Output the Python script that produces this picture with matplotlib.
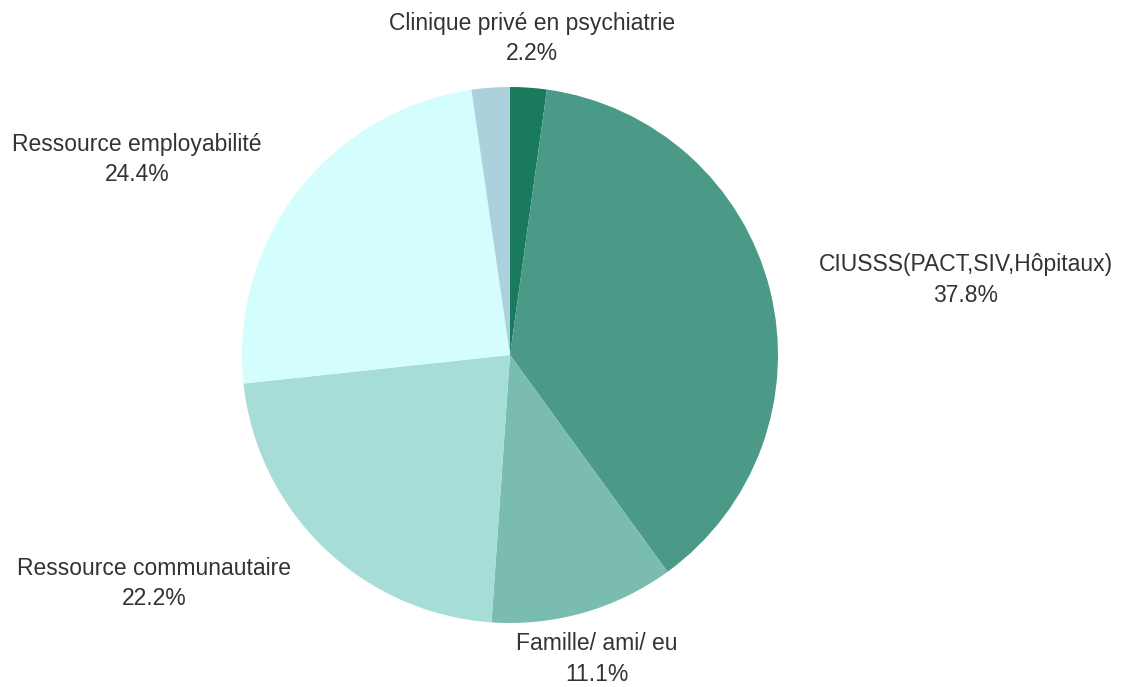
import matplotlib
matplotlib.use("Agg")
import matplotlib.pyplot as plt

categories = ["Clinique privé en psychiatrie", "CIUSSS(PACT,SIV,Hôpitaux)", "Famille/ ami/ eu",
              "Ressource communautaire", "Ressource employabilité", ""]
values = [2.2, 37.8, 11.1, 22.2, 24.4, 2.3]
pct_labels = ["2.2%", "37.8%", "11.1%", "22.2%", "24.4%", ""]

colors = ["#1a7a5e", "#4a9a87", "#7abcb0", "#a6ddd7", "#d4fdfd", "#abd2dc"]
# label block centres (pie radius = 1)
label_pos = [(0.082, 1.181), (1.701, 0.280), (0.325, -1.134), (-1.328, -0.854), (-1.392, 0.728), None]

W, H = 1125, 687
fig = plt.figure(figsize=(W / 100, H / 100), dpi=100)
cx, cy, r = 510, 355, 268
ax = fig.add_axes([(cx - r) / W, (H - cy - r) / H, 2 * r / W, 2 * r / H])
ax.pie(values, colors=colors, startangle=90, counterclock=False, radius=1,
       wedgeprops=dict(linewidth=0))
ax.set_xlim(-1, 1)
ax.set_ylim(-1, 1)
ax.set_aspect("equal")
ax.axis("off")

for cat, pct, pos in zip(categories, pct_labels, label_pos):
    if pos is None or not cat:
        continue
    ax.text(pos[0], pos[1], f"{cat}\n{pct}", ha="center", va="center", multialignment="center",
            fontsize=16.5, family=["Liberation Sans", "DejaVu Sans"], color="#333333",
            linespacing=1.4, clip_on=False)

fig.savefig("out.png", dpi=100)
